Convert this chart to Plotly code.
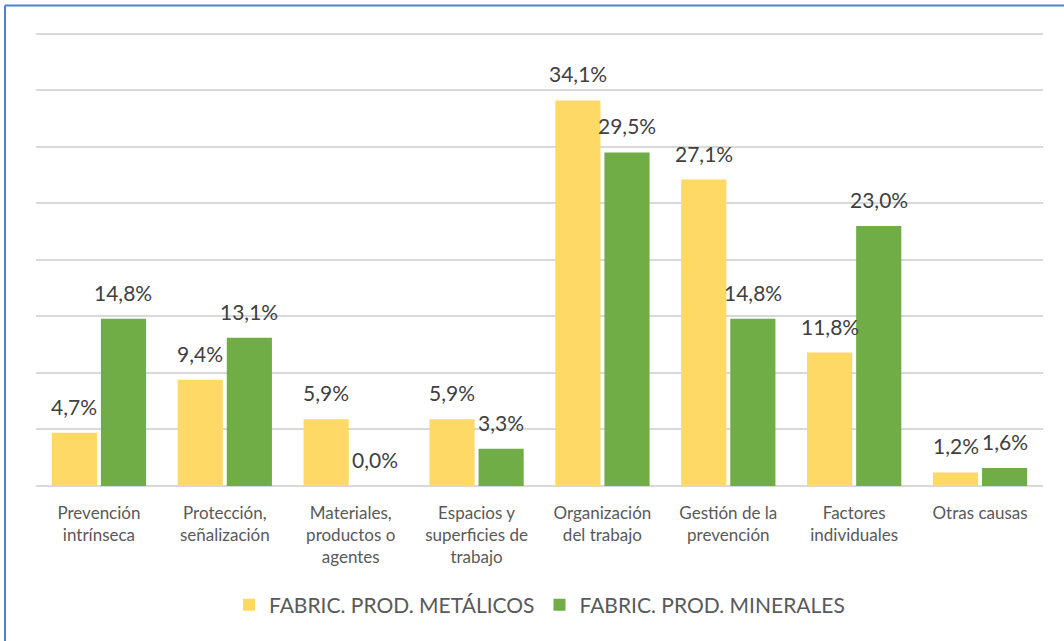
import plotly.graph_objects as go

categories = ["Prevención<br>intrínseca", "Protección,<br>señalización", "Materiales,<br>productos o<br>agentes",
              "Espacios y<br>superficies de<br>trabajo", "Organización<br>del trabajo", "Gestión de la<br>prevención",
              "Factores<br>individuales", "Otras causas"]
metalicos = [4.7, 9.4, 5.9, 5.9, 34.1, 27.1, 11.8, 1.2]
minerales = [14.8, 13.1, 0.0, 3.3, 29.5, 14.8, 23.0, 1.6]
series_names = ["FABRIC. PROD. METÁLICOS", "FABRIC. PROD. MINERALES"]
colors = ["#FFD966", "#70AD47"]

FONT = "Lato"

fig = go.Figure()
for name, vals, col in zip(series_names, [metalicos, minerales], colors):
    fig.add_trace(go.Bar(x=categories, y=vals, name=name, marker=dict(color=col, line=dict(width=0))))

def fmt(v):
    return f"{v:.1f}".replace(".", ",") + "%"

annotations = []
for shift, vals in zip([-24.5, 24.5], [metalicos, minerales]):
    for c, v in zip(categories, vals):
        annotations.append(dict(x=c, y=v, xref="x", yref="y", text=fmt(v), showarrow=False,
                                xshift=shift, yshift=12, yanchor="bottom",
                                font=dict(family=FONT, size=21, color="#404040")))

fig.update_layout(
    width=1064, height=641,
    margin=dict(l=36, r=21, t=28, b=155),
    paper_bgcolor="white", plot_bgcolor="white",
    barmode="group", bargap=0.22, bargroupgap=0.08,
    annotations=annotations,
    showlegend=True,
    legend=dict(orientation="h", x=0.5, xanchor="center", y=-0.26, yanchor="middle",
                font=dict(family=FONT, size=21, color="#595959"), itemwidth=30),
    xaxis=dict(showgrid=False, showline=False, ticks="", ticklabelstandoff=15,
               tickfont=dict(family=FONT, size=17, color="#595959")),
    yaxis=dict(range=[0, 40.5], tick0=0, dtick=5, showgrid=True, gridcolor="#D9D9D9", gridwidth=1.5,
               zeroline=True, zerolinecolor="#D9D9D9", zerolinewidth=1.5, showticklabels=False, ticks=""),
    shapes=[
        dict(type="line", xref="paper", yref="paper", x0=-0.0308, x1=1.1, y0=1.049, y1=1.049,
             line=dict(color="#4F81D0", width=2)),
        dict(type="line", xref="paper", yref="paper", x0=-0.0308, x1=-0.0308, y0=1.049, y1=-0.5,
             line=dict(color="#4F81D0", width=2)),
    ],
)

fig.write_html("out.html", config={"displayModeBar": False},
               post_script="document.body.style.margin='0';")
